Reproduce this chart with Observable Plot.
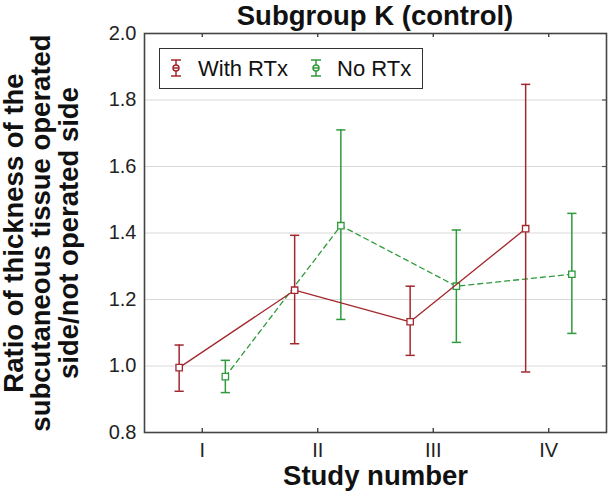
<!DOCTYPE html>
<html><head><meta charset="utf-8">
<script src="https://cdn.jsdelivr.net/npm/d3@7"></script>
<script src="https://cdn.jsdelivr.net/npm/@observablehq/plot@0.6"></script>
<style>
body{margin:0;background:#fff;font-family:"Liberation Sans",Arial,sans-serif;}
#wrap{position:relative;width:609px;height:498px;overflow:hidden;}
#chart{position:absolute;left:0;top:0;}
#title{position:absolute;left:144px;width:462px;top:-1px;height:33px;line-height:33px;font-size:27.5px;font-weight:bold;text-align:center;color:#111;z-index:2;}
#legend{position:absolute;left:159px;top:48px;width:262px;height:39px;border:1.5px solid #333;background:#fff;z-index:2;}
.li{position:absolute;top:0;height:39px;line-height:39px;font-size:22px;color:#111;white-space:nowrap;}
.li svg{position:absolute;top:9px;}
</style></head>
<body><div id="wrap"><div id="chart"></div><div id="title"></div><div id="legend"></div></div>
<script>
const title = "Subgroup K (control)";
const yTitle = "Ratio of thickness of the\nsubcutaneous tissue operated\nside/not operated side";
const xTitle = "Study number";
const studies = ["I", "II", "III", "IV"];
const seriesNames = ["With RTx", "No RTx"];
const yTicks = [0.8, 1.0, 1.2, 1.4, 1.6, 1.8, 2.0];
const withMean = [0.995, 1.228, 1.133, 1.413];
const withLow  = [0.924, 1.067, 1.032, 0.982];
const withHigh = [1.063, 1.393, 1.240, 1.847];
const noMean = [0.968, 1.422, 1.240, 1.276];
const noLow  = [0.920, 1.140, 1.071, 1.098];
const noHigh = [1.017, 1.710, 1.409, 1.459];

const RED = "#a3282d", GREEN = "#2f9a3c";
const W = 609, H = 498, ML = 144, MR = 3, MT = 33, MB = 66;
const FW = W - ML - MR, FH = H - MT - MB;
const OFF = 0.2;

function rows(mean, low, high, off) {
  return studies.map((s, i) => ({study: s, x: i + 1 + off, mean: mean[i], low: low[i], high: high[i]}));
}
const rWith = rows(withMean, withLow, withHigh, -OFF);
const rNo = rows(noMean, noLow, noHigh, OFF);
const xPos = studies.map((s, i) => i + 1);
const capSymbol = {draw(ctx, size) { const r = Math.sqrt(size / Math.PI); ctx.moveTo(-r, 0); ctx.lineTo(r, 0); }};

function series(data, color, dash) {
  return [
    Plot.line(data, {x: "x", y: "mean", stroke: color, strokeWidth: 1.3, strokeDasharray: dash}),
    Plot.ruleX(data, {x: "x", y1: "low", y2: "high", stroke: color, strokeWidth: 1.5}),
    Plot.dot(data, {x: "x", y: "low", symbol: capSymbol, r: 4.6, stroke: color, strokeWidth: 1.5}),
    Plot.dot(data, {x: "x", y: "high", symbol: capSymbol, r: 4.6, stroke: color, strokeWidth: 1.5}),
    Plot.dot(data, {x: "x", y: "mean", symbol: "square", r: 3.6, stroke: color, fill: "white", strokeWidth: 1.3})
  ];
}

const chart = Plot.plot({
  width: W, height: H, marginLeft: ML, marginRight: MR, marginTop: MT, marginBottom: MB,
  style: {fontFamily: "'Liberation Sans', Arial, sans-serif", background: "white", color: "#111"},
  x: {domain: [0.5, 4.5], axis: null},
  y: {domain: [0.8, 2.0], axis: null},
  marks: [
    Plot.gridY(yTicks.slice(1, -1), {stroke: "#d9d9d9", strokeOpacity: 1, strokeWidth: 1.2}),
    Plot.axisY(yTicks, {tickSize: 0, tickPadding: 8, fontSize: 20, tickFormat: d3.format(".1f"), fill: "#222", label: null}),
    Plot.axisX(xPos, {tickSize: 0, tickPadding: 10, fontSize: 20, tickFormat: d => studies[d - 1], fill: "#222", label: null}),
    Plot.ruleX(xPos, {x: d => d, insetTop: FH - 4, stroke: "#333", strokeWidth: 1.3}),
    Plot.ruleX(xPos, {x: d => d, insetBottom: FH - 4, stroke: "#333", strokeWidth: 1.3}),
    Plot.ruleY(yTicks.slice(1, -1), {y: d => d, insetLeft: FW - 4, stroke: "#555", strokeWidth: 1.2}),
    ...series(rNo, GREEN, "5,4"),
    ...series(rWith, RED, null),
    Plot.frame({stroke: "#444", strokeWidth: 1.6}),
    Plot.text([yTitle], {text: d => d, frameAnchor: "left", textAnchor: "middle", rotate: -90, dx: -103, fontSize: 27.5, fontWeight: "bold", lineHeight: 1.0, fill: "#111"}),
    Plot.text([xTitle], {text: d => d, frameAnchor: "bottom", textAnchor: "middle", dy: 52, fontSize: 27.5, fontWeight: "bold", fill: "#111"})
  ]
});
document.getElementById("chart").appendChild(chart);
document.getElementById("title").textContent = title;

function icon(color) {
  return `<svg width="14" height="20" viewBox="0 0 14 20"><g stroke="${color}" stroke-width="1.5" fill="none">
  <line x1="7" y1="2" x2="7" y2="18"/><line x1="2" y1="2" x2="12" y2="2"/><line x1="2" y1="18" x2="12" y2="18"/>
  <circle cx="7" cy="10" r="3" fill="white"/><line x1="4" y1="10" x2="10" y2="10"/></g></svg>`;
}
const lg = document.getElementById("legend");
const colors = [RED, GREEN];
const pos = [[9, 38], [149, 177]];
seriesNames.forEach((n, i) => {
  const a = document.createElement("div");
  a.className = "li"; a.style.left = pos[i][0] + "px"; a.innerHTML = icon(colors[i]);
  lg.appendChild(a);
  const t = document.createElement("div");
  t.className = "li"; t.style.left = pos[i][1] + "px"; t.textContent = n;
  lg.appendChild(t);
});
</script></body></html>
